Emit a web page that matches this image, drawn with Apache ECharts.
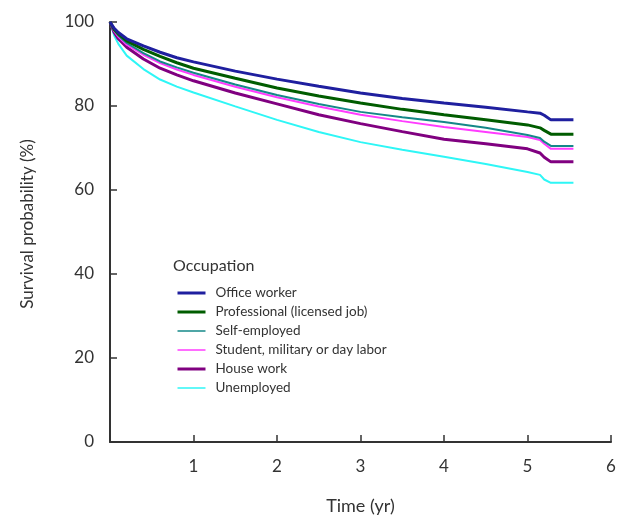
<!DOCTYPE html>
<html><head><meta charset="utf-8">
<script src="https://cdn.jsdelivr.net/npm/echarts@6/dist/echarts.min.js"></script>
<style>html,body{margin:0;padding:0;background:#fff}#c{width:622px;height:516px}</style>
</head><body><div id="c"></div>
<script>
const times = [0, 0.05, 0.1, 0.2, 0.4, 0.6, 0.8, 1, 1.5, 2, 2.5, 3, 3.5, 4, 4.5, 5, 5.15, 5.2, 5.28, 5.55];
const officeWorker = [100, 98.5, 97.5, 96, 94.3, 92.8, 91.5, 90.5, 88.3, 86.4, 84.7, 83.1, 81.8, 80.7, 79.7, 78.6, 78.3, 77.8, 76.7, 76.7];
const professional = [100, 98.2, 97.2, 95.5, 93.5, 91.8, 90.3, 89, 86.6, 84.3, 82.4, 80.7, 79.2, 77.9, 76.7, 75.5, 74.8, 74.2, 73.3, 73.3];
const selfEmployed = [100, 98, 96.8, 95, 92.6, 90.6, 89.2, 87.9, 85.1, 82.6, 80.5, 78.6, 77.3, 76.2, 74.8, 73.1, 72.4, 71.5, 70.5, 70.5];
const student = [100, 97.8, 96.5, 94.6, 92.2, 90.2, 88.7, 87.4, 84.6, 82.1, 79.9, 77.9, 76.4, 75, 73.8, 72.6, 71.9, 71, 69.8, 69.8];
const houseWork = [100, 97.5, 96, 94, 91.2, 89, 87.4, 86, 83.1, 80.5, 77.9, 75.8, 73.9, 72.1, 71, 69.8, 68.8, 67.8, 66.7, 66.7];
const unemployed = [100, 96.8, 94.8, 92, 88.8, 86.3, 84.6, 83.2, 79.9, 76.7, 73.8, 71.4, 69.6, 67.9, 66.2, 64.3, 63.6, 62.5, 61.7, 61.7];
const seriesNames = ['Office worker', 'Professional (licensed job)', 'Self-employed', 'Student, military or day labor', 'House work', 'Unemployed'];
const xTicks = ['', '1', '2', '3', '4', '5', '6'];
const yTicks = ['0', '20', '40', '60', '80', '100'];

const seriesData = [officeWorker, professional, selfEmployed, student, houseWork, unemployed];
const colors = ['#1f1f9f', '#005c00', '#148888', '#ff3cff', '#800080', '#2ef6f6'];
const widths = [3, 3, 2, 2, 3, 2];
const legendWidths = [3, 3, 1.5, 1.5, 3, 1.5];
const FONT = 'Lato';

const chart = echarts.init(document.getElementById('c'), null, {renderer: 'canvas'});
chart.setOption({
  animation: false,
  backgroundColor: '#fff',
  textStyle: {fontFamily: FONT},
  grid: {left: 110, right: 11, top: 22, bottom: 74, containLabel: false, outerBoundsMode: 'none'},
  title: {
    text: 'Occupation', left: 168, top: 253,
    textStyle: {fontFamily: FONT, fontSize: 16, fontWeight: 'normal', color: '#333'}
  },
  legend: {
    orient: 'vertical', left: 171, top: 281,
    itemWidth: 28, itemHeight: 14, itemGap: 5,
    itemStyle: {opacity: 0},
    textStyle: {fontFamily: FONT, fontSize: 13.5, color: '#333', padding: [0, 0, 0, 5]},
    data: seriesNames.map((n, i) => ({name: n, lineStyle: {width: legendWidths[i]}}))
  },
  xAxis: {
    type: 'value', min: 0, max: 6, interval: 1,
    name: 'Time (yr)', nameLocation: 'middle', nameGap: 55,
    nameTextStyle: {fontFamily: FONT, fontSize: 18, color: '#333'},
    axisLine: {show: true, lineStyle: {color: '#333', width: 2}},
    axisTick: {show: true, inside: true, length: 7, lineStyle: {color: '#333', width: 1.5}},
    axisLabel: {margin: 16, fontFamily: FONT, fontSize: 17, color: '#333',
      formatter: v => xTicks[Math.round(v)]},
    splitLine: {show: false}
  },
  yAxis: {
    type: 'value', min: 0, max: 100, interval: 20,
    name: 'Survival probability (%)', nameLocation: 'middle', nameGap: 74,
    nameTextStyle: {fontFamily: FONT, fontSize: 17, color: '#333', padding: [0, 0, 0, 16]},
    axisLine: {show: true, lineStyle: {color: '#333', width: 2}},
    axisTick: {show: true, inside: true, length: 7, lineStyle: {color: '#333', width: 1.5}},
    axisLabel: {margin: 16, fontFamily: FONT, fontSize: 17, color: '#333',
      formatter: v => yTicks[Math.round(v / 20)]},
    splitLine: {show: false}
  },
  series: seriesNames.map((n, i) => ({
    name: n, type: 'line', showSymbol: false, symbol: 'none',
    data: times.map((t, j) => [t, seriesData[i][j]]),
    lineStyle: {color: colors[i], width: widths[i]},
    itemStyle: {color: colors[i]},
    z: 10 - i
  }))
});
</script></body></html>
